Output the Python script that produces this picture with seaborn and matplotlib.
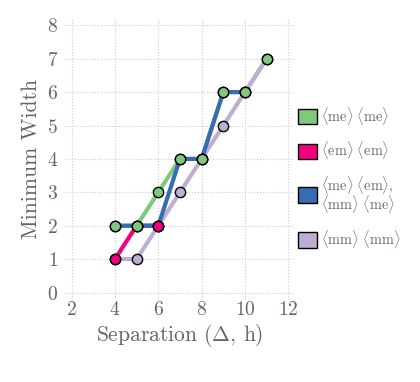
import pandas as pd
import matplotlib
matplotlib.use('Agg')
import matplotlib.pyplot as plt
import seaborn as sns
from matplotlib.patches import Patch

# series data (separation, minimum width)
me_me_x = [4, 5, 6, 7, 8, 9, 10, 11]
me_me_y = [2, 2, 3, 4, 4, 6, 6, 7]
em_em_x = [4, 5, 6]
em_em_y = [1, 2, 2]
mixed_x = [4, 5, 6, 7, 8, 9, 10]
mixed_y = [2, 2, 2, 4, 4, 6, 6]
mm_mm_x = [4, 5, 6, 7, 8, 9, 10, 11]
mm_mm_y = [1, 1, 2, 3, 4, 5, 6, 7]

labels = [r'$\langle\mathrm{me}\rangle\ \langle\mathrm{me}\rangle$',
          r'$\langle\mathrm{em}\rangle\ \langle\mathrm{em}\rangle$',
          r'$\langle\mathrm{me}\rangle\ \langle\mathrm{em}\rangle,$' + '\n' + r'$\langle\mathrm{mm}\rangle\ \langle\mathrm{me}\rangle$',
          r'$\langle\mathrm{mm}\rangle\ \langle\mathrm{mm}\rangle$']

GREEN = '#7fc97f'
PINK = '#f0027f'
BLUE = '#386cb0'
PURPLE = '#beaed4'
TEXT = '#6a6268'

sns.set_style('white')
plt.rcParams['font.family'] = 'serif'
plt.rcParams['font.serif'] = ['cmr10']
plt.rcParams['mathtext.fontset'] = 'cm'
plt.rcParams['axes.formatter.use_mathtext'] = True

fig = plt.figure(figsize=(4.2, 3.82), dpi=100)
ax = fig.add_axes([0.155, 0.215, 0.547, 0.738])

# lines, bottom to top
for xs, ys, c in [(me_me_x, me_me_y, GREEN), (mm_mm_x, mm_mm_y, PURPLE),
                  (em_em_x, em_em_y, PINK), (mixed_x, mixed_y, BLUE)]:
    sns.lineplot(x=xs, y=ys, color=c, linewidth=3, ax=ax, zorder=2)

# markers, bottom to top
for xs, ys, c in [(mm_mm_x, mm_mm_y, PURPLE), (mixed_x, mixed_y, BLUE),
                  (em_em_x, em_em_y, PINK), (me_me_x, me_me_y, GREEN)]:
    sns.scatterplot(x=xs, y=ys, color=c, s=55, edgecolor='black', linewidth=1.0, ax=ax, zorder=3)

ax.set_xlim(1.7, 12.3)
ax.set_ylim(-0.22, 8.22)
ax.set_xticks(range(2, 13, 2))
ax.set_yticks(range(0, 9))
ax.grid(True, linestyle=':', color='#c8c8e0', linewidth=0.8)
for s in ax.spines.values():
    s.set_visible(False)
ax.tick_params(colors=TEXT, labelsize=14, length=0)
ax.tick_params(axis='x', pad=1)
ax.tick_params(axis='y', pad=5)
ax.set_xlabel('Separation ($\\Delta$, h)', fontsize=15.5, color=TEXT, labelpad=2)
ax.set_ylabel('Minimum Width', fontsize=15.5, color=TEXT, labelpad=4)

handles = [Patch(facecolor=c, edgecolor='black', linewidth=1.0) for c in [GREEN, PINK, BLUE, PURPLE]]
leg = fig.legend(handles, labels, loc='center left', bbox_to_anchor=(0.68, 0.536),
                 frameon=False, fontsize=10.3, handlelength=1.3, handleheight=1.3,
                 handletextpad=0.3, labelspacing=0.9, labelcolor=TEXT)
leg.get_texts()[2].set_linespacing(0.8)

fig.savefig('out.png', dpi=100)
